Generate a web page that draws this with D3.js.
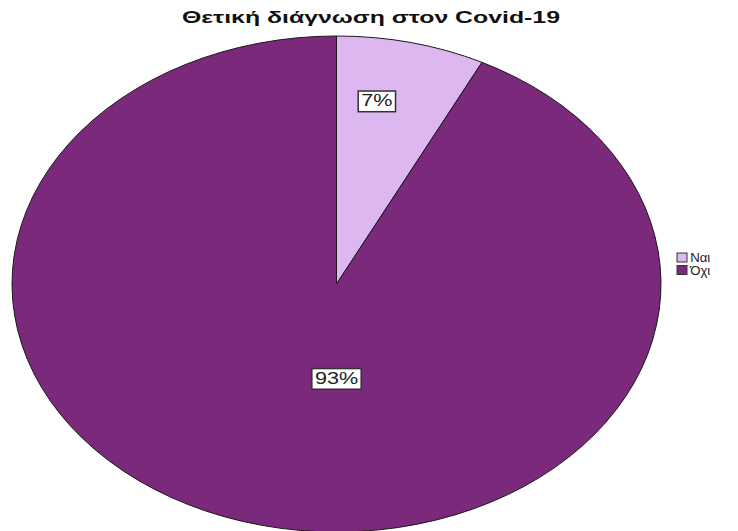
<!DOCTYPE html>
<html>
<head>
<meta charset="utf-8">
<script src="https://cdn.jsdelivr.net/npm/d3@7"></script>
<style>
  body { margin: 0; background: #fff; }
  svg { display: block; font-family: "Liberation Sans", Arial, sans-serif; }
</style>
</head>
<body>
<div id="chart"></div>
<script>
// data
var categories = ["Ναι", "Όχι"];
var percents = [7.4, 92.6];
var colors = ["#dcb7f0", "#7b297b"];

// where SPSS drops the labels, as fractions of the radius (x, y)
var labelFrac = [[0.54, 0.76], [0.0, 0.39]];

var W = 738, H = 531;
var cx = 336.5, cy = 284, rx = 324.5, ry = 248;
var stretch = 1.35; // the export is stretched sideways

var svg = d3.select("#chart").append("svg")
  .attr("width", W)
  .attr("height", H);

svg.append("text")
  .attr("x", 371)
  .attr("y", 23)
  .attr("text-anchor", "middle")
  .attr("textLength", 378)
  .attr("lengthAdjust", "spacingAndGlyphs")
  .style("font-size", "16px")
  .style("font-weight", "bold")
  .style("fill", "#111")
  .text("Θετική διάγνωση στον Covid-19");

var data = categories.map(function (c, i) {
  return { name: c, value: percents[i], color: colors[i] };
});

var pie = d3.pie()
  .sort(null)
  .value(function (d) { return d.value; });

var arc = d3.arc().innerRadius(0).outerRadius(rx);

var arcs = pie(data);

var g = svg.append("g")
  .attr("transform", "translate(" + cx + "," + cy + ") scale(1," + (ry / rx) + ")");

g.selectAll("path")
  .data(arcs)
  .enter()
  .append("path")
    .attr("d", arc)
    .attr("fill", function (d) { return d.data.color; })
    .attr("stroke", "#1a1a1a")
    .attr("stroke-width", 1)
    .attr("vector-effect", "non-scaling-stroke");

// percentage labels in white boxes
var fmt = d3.format(".0f");
var labels = svg.selectAll("g.lbl")
  .data(arcs)
  .enter()
  .append("g")
    .attr("class", "lbl")
    .attr("transform", function (d, i) {
      var a = (d.startAngle + d.endAngle) / 2;
      var x = cx + labelFrac[i][0] * rx * Math.sin(a);
      var y = cy - labelFrac[i][1] * ry * Math.cos(a);
      return "translate(" + x + "," + y + ")";
    });

labels.append("text")
  .attr("text-anchor", "middle")
  .attr("dy", "0.36em")
  .attr("transform", "scale(" + stretch + ",1)")
  .style("font-size", "16px")
  .style("fill", "#222")
  .text(function (d) { return fmt(d.data.value) + "%"; });

labels.each(function () {
  var grp = d3.select(this);
  var bb = grp.select("text").node().getBBox();
  var w = bb.width * stretch + 6;
  grp.insert("rect", "text")
    .attr("x", -w / 2)
    .attr("y", bb.y - 1)
    .attr("width", w)
    .attr("height", bb.height + 3)
    .attr("fill", "#fff")
    .attr("stroke", "#333")
    .attr("stroke-width", 1.5);
});

// legend
var legend = svg.selectAll("g.leg")
  .data(data)
  .enter()
  .append("g")
    .attr("class", "leg")
    .attr("transform", function (d, i) { return "translate(677," + (253 + i * 12.5) + ")"; });

legend.append("rect")
  .attr("width", 10)
  .attr("height", 9)
  .attr("fill", function (d) { return d.color; })
  .attr("stroke", "#333")
  .attr("stroke-width", 1);

legend.append("text")
  .attr("x", 12)
  .attr("y", 9)
  .attr("transform", "scale(1.1,1)")
  .style("font-size", "12px")
  .style("fill", "#222")
  .text(function (d) { return d.name; });
</script>
</body>
</html>
